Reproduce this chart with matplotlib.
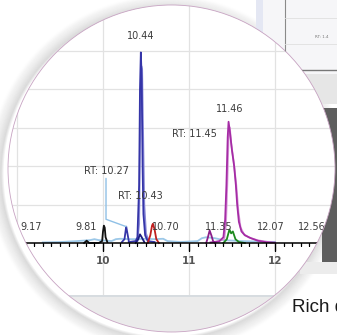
import numpy as np
import matplotlib.pyplot as plt
from matplotlib.patches import Circle, PathPatch, Rectangle
from matplotlib.path import Path
from matplotlib.ticker import MultipleLocator

# chromatogram traces (retention time, relative abundance)
blue_rt = [10.30, 10.38, 10.40, 10.42, 10.43, 10.44, 10.45, 10.46, 10.47, 10.49, 10.52, 10.60]
blue_y = [0.5, 1, 3, 30, 80, 99, 85, 40, 15, 4, 1, 0.5]
blue2_rt = [10.40, 10.42, 10.43, 10.445, 10.455, 10.465, 10.48, 10.50, 10.53]
blue2_y = [1, 10, 50, 92, 90, 60, 20, 5, 1]
small_blue_rt = [10.22, 10.25, 10.265, 10.27, 10.28, 10.30]
small_blue_y = [0.5, 2, 7, 8.5, 6, 1]
navy_rt = [10.38, 10.41, 10.43, 10.45, 10.48]
navy_y = [0, 2, 4.5, 3, 0.5]
red_rt = [10.52, 10.55, 10.57, 10.58, 10.60, 10.62, 10.65]
red_y = [0, 4, 9, 10, 7, 2, 0]
black_rt = [9.78, 9.81, 9.84, 9.95, 9.99, 10.00, 10.01, 10.02, 10.03, 10.05]
black_y = [0, 1.2, 0, 0, 1, 6, 9, 8, 3, 0.5]
mag_rt = [11.25, 11.35, 11.40, 11.42, 11.435, 11.45, 11.46, 11.475, 11.50, 11.525,
          11.545, 11.56, 11.58, 11.61, 11.65, 11.72, 11.80, 11.90, 12.0]
mag_y = [0.3, 0.8, 3, 12, 30, 55, 63, 58, 48, 40, 30, 20, 11, 6, 4, 2.5, 1.2, 0.4, 0.2]
mag2_rt = [11.30, 11.41, 11.43, 11.445, 11.46, 11.475, 11.49, 11.52, 11.55, 11.575,
           11.60, 11.64, 11.70, 11.80, 11.95]
mag2_y = [0.5, 2, 10, 30, 55, 60, 52, 42, 30, 16, 8, 4.5, 2.8, 1.4, 0.3]
small_mag_rt = [11.20, 11.22, 11.24, 11.26, 11.28, 11.30]
small_mag_y = [0, 3, 6.5, 4, 1, 0]
green_rt = [11.40, 11.44, 11.47, 11.49, 11.51, 11.54, 11.58, 11.65]
green_y = [0, 2, 7, 5, 6, 2, 0.5, 0]
cyan_rt = [9.3, 9.5, 9.7, 9.85, 9.9, 9.95, 10.1, 10.15, 10.2, 10.3, 10.4, 10.5,
           10.6, 10.7, 10.75, 10.9, 11.1, 11.15, 11.2, 11.3, 11.4, 11.6, 12.0]
cyan_y = [0.3, 0.5, 1, 1.5, 2, 1.5, 1, 2, 2.2, 2, 2, 2.2, 2, 2.2, 1, 0.5, 1, 2.5,
          3, 2.5, 1.5, 1, 0.5]

peak_labels = ['10.44', '11.46', 'RT: 11.45', 'RT: 10.43', '9.17', '9.81',
               '10.70', '11.35', '12.07', '12.56']
peak_label_x = [10.44, 11.475, 11.06, 10.436, 9.17, 9.80, 10.73, 11.35, 11.95, 12.43]
peak_label_y = [105, 67, 54, 22, 5.5, 5.5, 5.5, 5.5, 5.5, 5.5]

W, H = 337, 335
cx, cy, r = 171.5, 168.5, 163.5

fig = plt.figure(figsize=(W / 100, H / 100), dpi=100)
fig.patch.set_facecolor('white')

# background layer (inside the lens, below the chart)
bg = fig.add_axes([0, 0, 1, 1], zorder=0)
bg.set_xlim(0, W)
bg.set_ylim(H, 0)
bg.axis('off')
lens = Circle((cx, cy), r, fc='none', ec='none')
bg.add_patch(lens)
grey = Rectangle((0, 295), W, 40, fc='#ebebeb', ec='none')
bg.add_patch(grey)
grey.set_clip_path(lens)
sep = bg.plot([0, W], [295.5, 295.5], color='#d3d9de', lw=1.2)[0]
sep.set_clip_path(lens)

# chromatogram
ax = fig.add_axes([0, (H - 295) / H, 1, 295 / H], zorder=1)
ax.patch.set_alpha(0)
ax.set_xlim(10 - 103 / 86, 10 + 234 / 86)
ax.set_ylim(-52 / 1.925, 243 / 1.925)
for s in ['top', 'right', 'left']:
    ax.spines[s].set_visible(False)
ax.spines['bottom'].set_position(('data', 0))
ax.spines['bottom'].set_linewidth(1.1)
ax.set_yticks([20, 40, 60, 80, 100])
ax.tick_params(axis='y', left=False, labelleft=False)
ax.xaxis.set_major_locator(MultipleLocator(1))
ax.xaxis.set_minor_locator(MultipleLocator(0.1))
ax.tick_params(axis='x', which='major', length=6, width=1, direction='out',
               labelsize=7.5, labelcolor='#555555', pad=3)
ax.tick_params(axis='x', which='minor', length=2.5, width=0.9, direction='out')
for lab in ax.get_xticklabels():
    lab.set_fontweight('bold')
ax.grid(True, which='major', color='#e2e2e2', lw=0.9)
ax.set_axisbelow(True)

lw = 1.3
ax.plot(cyan_rt, cyan_y, color='#9cc8e8', lw=lw)
ax.plot(black_rt, black_y, color='#111111', lw=lw)
ax.plot(blue2_rt, blue2_y, color='#8b8bd8', lw=lw)
ax.plot(blue_rt, blue_y, color='#3535a8', lw=lw)
ax.plot(small_blue_rt, small_blue_y, color='#3535a8', lw=lw)
ax.plot(navy_rt, navy_y, color='#1c1c80', lw=lw)
ax.plot(red_rt, red_y, color='#c02020', lw=lw)
ax.plot(mag2_rt, mag2_y, color='#d896d8', lw=lw)
ax.plot(mag_rt, mag_y, color='#a52ca5', lw=lw)
ax.plot(small_mag_rt, small_mag_y, color='#8a1f8a', lw=lw)
ax.plot(green_rt, green_y, color='#1e8a1e', lw=lw)

for t, x, y in zip(peak_labels, peak_label_x, peak_label_y):
    ax.text(x, y, t, ha='center', va='bottom', fontsize=7, color='#3c3c3c')
ax.annotate('RT: 10.27', xy=(10.27, 8.5), xytext=(10.035, 35),
            ha='center', va='bottom', fontsize=7, color='#3c3c3c',
            arrowprops=dict(arrowstyle='-', color='#8fc0e6', lw=1,
                            shrinkA=0, shrinkB=0,
                            connectionstyle='angle,angleA=90,angleB=160,rad=0'))

# clip the whole chart to the lens
fig.canvas.draw()
arts = list(ax.get_children())
for axis in (ax.xaxis, ax.yaxis):
    for tk in axis.get_major_ticks() + axis.get_minor_ticks():
        arts += [tk.tick1line, tk.tick2line, tk.gridline, tk.label1, tk.label2]
for a in arts:
    if a is not ax.patch:
        a.set_clip_path(lens)

# overlay: everything outside the lens, on a white mask
top = fig.add_axes([0, 0, 1, 1], zorder=5)
top.patch.set_alpha(0)
top.set_xlim(0, W)
top.set_ylim(H, 0)
top.axis('off')

ang = np.linspace(0, 2 * np.pi, 361)
ring = np.column_stack([cx + r * np.cos(ang), cy + r * np.sin(ang)])
outer = Path([(-10, -10), (W + 10, -10), (W + 10, H + 10), (-10, H + 10), (-10, -10)],
             [Path.MOVETO, Path.LINETO, Path.LINETO, Path.LINETO, Path.CLOSEPOLY])
hole = Path(ring[::-1], closed=True)
mask = PathPatch(Path.make_compound_path(outer, hole), fc='white', ec='none')
top.add_patch(mask)

outside = []
# drop shadow
for k in range(14):
    c = Circle((cx - 5, cy + 5), r + 1 + k, fc='none', ec='#000000',
               lw=2.2, alpha=0.05 * (1 - k / 14))
    outside.append(c)
# screenshot behind the lens, top right
outside.append(Rectangle((256, 0), 81, 74, fc='#f6f6f8', ec='none'))
outside.append(Rectangle((256, 0), 7, 48, fc='#e4e7f3', ec='none'))
outside.append(Rectangle((256, 74), 81, 30, fc='#e6e6e6', ec='none'))
outside.append(Rectangle((322, 108), 15, 156, fc='#5e5e5e', ec='none'))
outside.append(Rectangle((300, 262), 37, 12, fc='#ececec', ec='none'))
for p in outside:
    top.add_patch(p)
    p.set_clip_path(mask)

shot_lines = [top.plot([285, 285], [0, 70], color='#8a8a8a', lw=0.8)[0],
              top.plot([262, 337], [70, 70], color='#777777', lw=1)[0],
              top.plot([285, 337], [18, 18], color='#e0e0e0', lw=0.6)[0],
              top.plot([285, 337], [44, 44], color='#e0e0e0', lw=0.6)[0]]
for ln in shot_lines:
    ln.set_clip_path(mask)
tt = top.text(322, 38, 'RT: 1.4', fontsize=3, color='#777777', ha='center')
tt.set_clip_path(mask)

top.add_patch(Circle((cx, cy), r, fc='none', ec='#c7a3c2', lw=0.6))

top.text(292, 312, 'Rich d', fontsize=13.5, color='#1a1a1a', va='baseline', ha='left',
         family=['Liberation Sans Narrow', 'Liberation Sans', 'DejaVu Sans'])

fig.savefig('out.png', dpi=100)
